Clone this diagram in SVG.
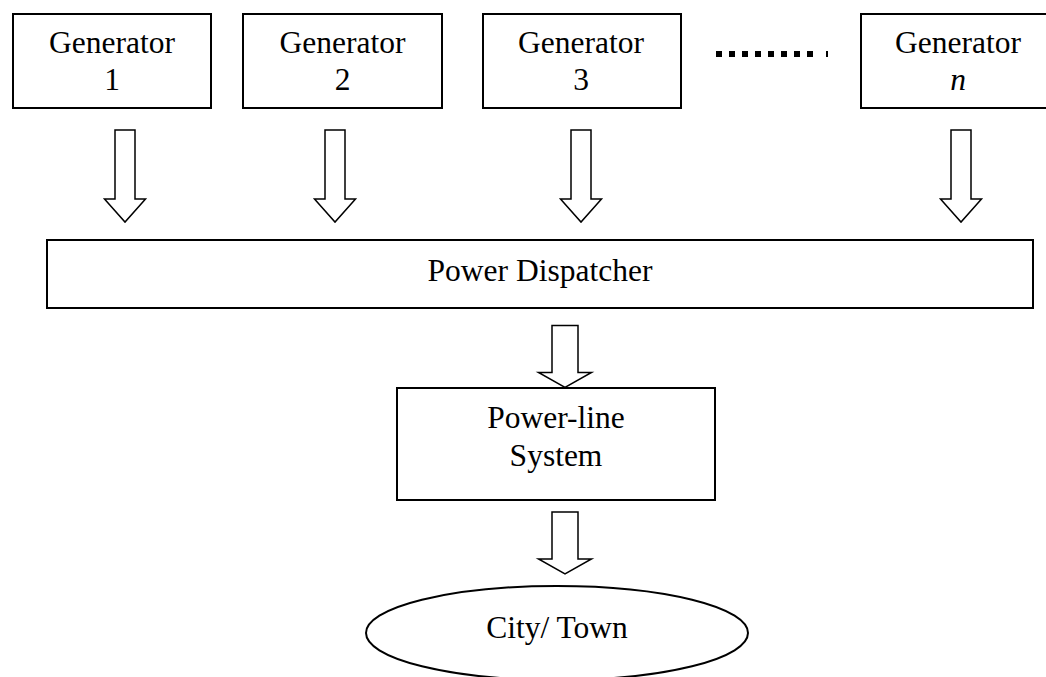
<svg xmlns="http://www.w3.org/2000/svg" width="1046" height="677" viewBox="0 0 1046 677">
<style>
.box{fill:#fff;stroke:#000;stroke-width:2}
.arr{fill:#fff;stroke:#000;stroke-width:1.5;stroke-linejoin:miter}
text{font-family:"Liberation Serif","Times New Roman",serif;font-size:31.5px;fill:#000;text-anchor:middle}
.dot{fill:#000}
</style>
<defs>
<path id="arrow" d="M-10,0 H10 V69 H20.5 L0,92 L-20.5,69 H-10 Z"/>
<path id="arrowS" d="M-13,0 H13 V47 H26.5 L0,62 L-26.5,47 H-13 Z"/>
</defs>
<rect width="1046" height="677" fill="#fff"/>
<g id="connectors">
<use href="#arrow" class="arr" x="125" y="130"/>
<use href="#arrow" class="arr" x="335" y="130"/>
<use href="#arrow" class="arr" x="581" y="130"/>
<use href="#arrow" class="arr" x="961" y="130"/>
<use href="#arrowS" class="arr" x="565" y="325.5"/>
<use href="#arrowS" class="arr" x="565" y="512"/>
</g>
<g id="gen1">
<rect class="box" x="13" y="14" width="198" height="94"/>
<text x="112" y="53">Generator</text>
<text x="112" y="90">1</text>
</g>
<g id="gen2">
<rect class="box" x="243" y="14" width="199" height="94"/>
<text x="342.5" y="53">Generator</text>
<text x="342.5" y="90">2</text>
</g>
<g id="gen3">
<rect class="box" x="483" y="14" width="198" height="94"/>
<text x="581" y="53">Generator</text>
<text x="581" y="90">3</text>
</g>
<g id="ellipsis">
<rect class="dot" x="716" y="51" width="6" height="6"/>
<rect class="dot" x="729" y="51" width="6" height="6"/>
<rect class="dot" x="742" y="51" width="6" height="6"/>
<rect class="dot" x="755" y="51" width="6" height="6"/>
<rect class="dot" x="768" y="51" width="6" height="6"/>
<rect class="dot" x="781" y="51" width="6" height="6"/>
<rect class="dot" x="794" y="51" width="6" height="6"/>
<rect class="dot" x="807" y="51" width="6" height="6"/>
<rect class="dot" x="826" y="51" width="2" height="6"/>
</g>
<g id="genN">
<rect class="box" x="861" y="14" width="194" height="94"/>
<text x="958" y="53">Generator</text>
<text x="958" y="90" font-style="italic">n</text>
</g>
<g id="dispatcher">
<rect class="box" x="47" y="240" width="986" height="68"/>
<text x="540" y="281">Power Dispatcher</text>
</g>
<g id="powerline">
<rect class="box" x="397" y="388" width="318" height="112"/>
<text x="556" y="428">Power-line</text>
<text x="556" y="466">System</text>
</g>
<g id="city">
<ellipse class="box" cx="557" cy="633" rx="191" ry="47" stroke-width="1.5"/>
<text x="557" y="638">City/ Town</text>
</g>
</svg>
